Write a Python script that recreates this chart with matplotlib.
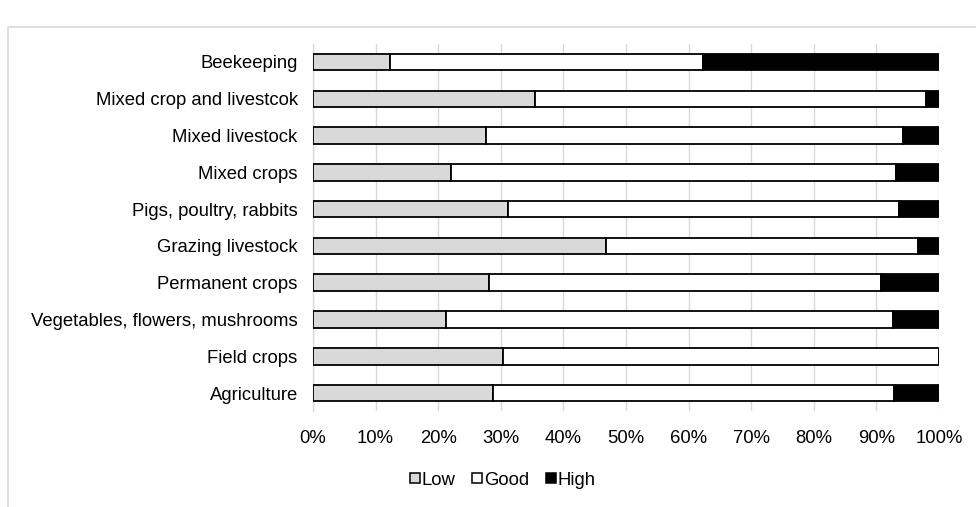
import matplotlib
matplotlib.use("Agg")
import matplotlib.pyplot as plt
from matplotlib.patches import Rectangle
from matplotlib.lines import Line2D
from matplotlib.ticker import PercentFormatter
import numpy as np

plt.rcParams['font.family'] = ['Liberation Sans', 'DejaVu Sans']

# farm types, top to bottom
categories = ['Beekeeping', 'Mixed crop and livestcok', 'Mixed livestock', 'Mixed crops',
              'Pigs, poultry, rabbits', 'Grazing livestock', 'Permanent crops',
              'Vegetables, flowers, mushrooms', 'Field crops', 'Agriculture']

# shares in percent
low = [12.3, 35.5, 27.6, 22.1, 31.1, 46.8, 28.1, 21.3, 30.3, 28.8]
good = [50.0, 62.5, 66.7, 71.1, 62.5, 49.9, 62.7, 71.4, 69.7, 64.0]
high = [37.7, 2.0, 5.7, 6.8, 6.4, 3.3, 9.2, 7.3, 0.0, 7.2]

series = ['Low', 'Good', 'High']
colors = ['#d9d9d9', '#ffffff', '#000000']

fig = plt.figure(figsize=(9.76, 5.07), dpi=100)
ax = fig.add_axes([0.3207, 0.1884, 0.6413, 0.7256])

# light outer chart border
fig.patches.append(Rectangle((8 / 976, -0.2), 1.2, 0.2 + (1 - 27 / 507), transform=fig.transFigure,
                             fill=False, edgecolor='#d9d9d9', linewidth=1.2, clip_on=False))

y = np.arange(len(categories))
left = np.zeros(len(categories))
for vals, name, c in zip([low, good, high], series, colors):
    vals = np.array(vals)
    ax.barh(y, vals, left=left, height=0.45, color=c, edgecolor='black', linewidth=1.3,
            label=name, zorder=3)
    left += vals

ax.set_xlim(0, 100)
ax.set_ylim(len(categories) - 0.5, -0.5)
ax.set_xticks(np.arange(0, 101, 10))
ax.xaxis.set_major_formatter(PercentFormatter(decimals=0))
ax.set_yticks(y)
ax.set_yticklabels(categories)
ax.tick_params(axis='both', length=0, labelsize=13.3, colors='#000000')
ax.tick_params(axis='y', pad=11)
ax.tick_params(axis='x', pad=13)

ax.grid(axis='x', color='#d9d9d9', linewidth=1, zorder=0)
for s in ['top', 'right', 'bottom']:
    ax.spines[s].set_visible(False)
ax.spines['left'].set_color('#d9d9d9')
ax.spines['left'].set_linewidth(1)

# small square legend keys
handles = [Line2D([], [], linestyle='none', marker='s', markersize=6.5, markerfacecolor=c,
                  markeredgecolor='black', markeredgewidth=1.1, label=n)
           for n, c in zip(series, colors)]
fig.legend(handles=handles, loc='center', bbox_to_anchor=(0.515, 0.053), ncol=3, frameon=False,
           fontsize=13.3, handlelength=0.55, handletextpad=0.1, columnspacing=0.9)

fig.savefig('out.png', dpi=100)
